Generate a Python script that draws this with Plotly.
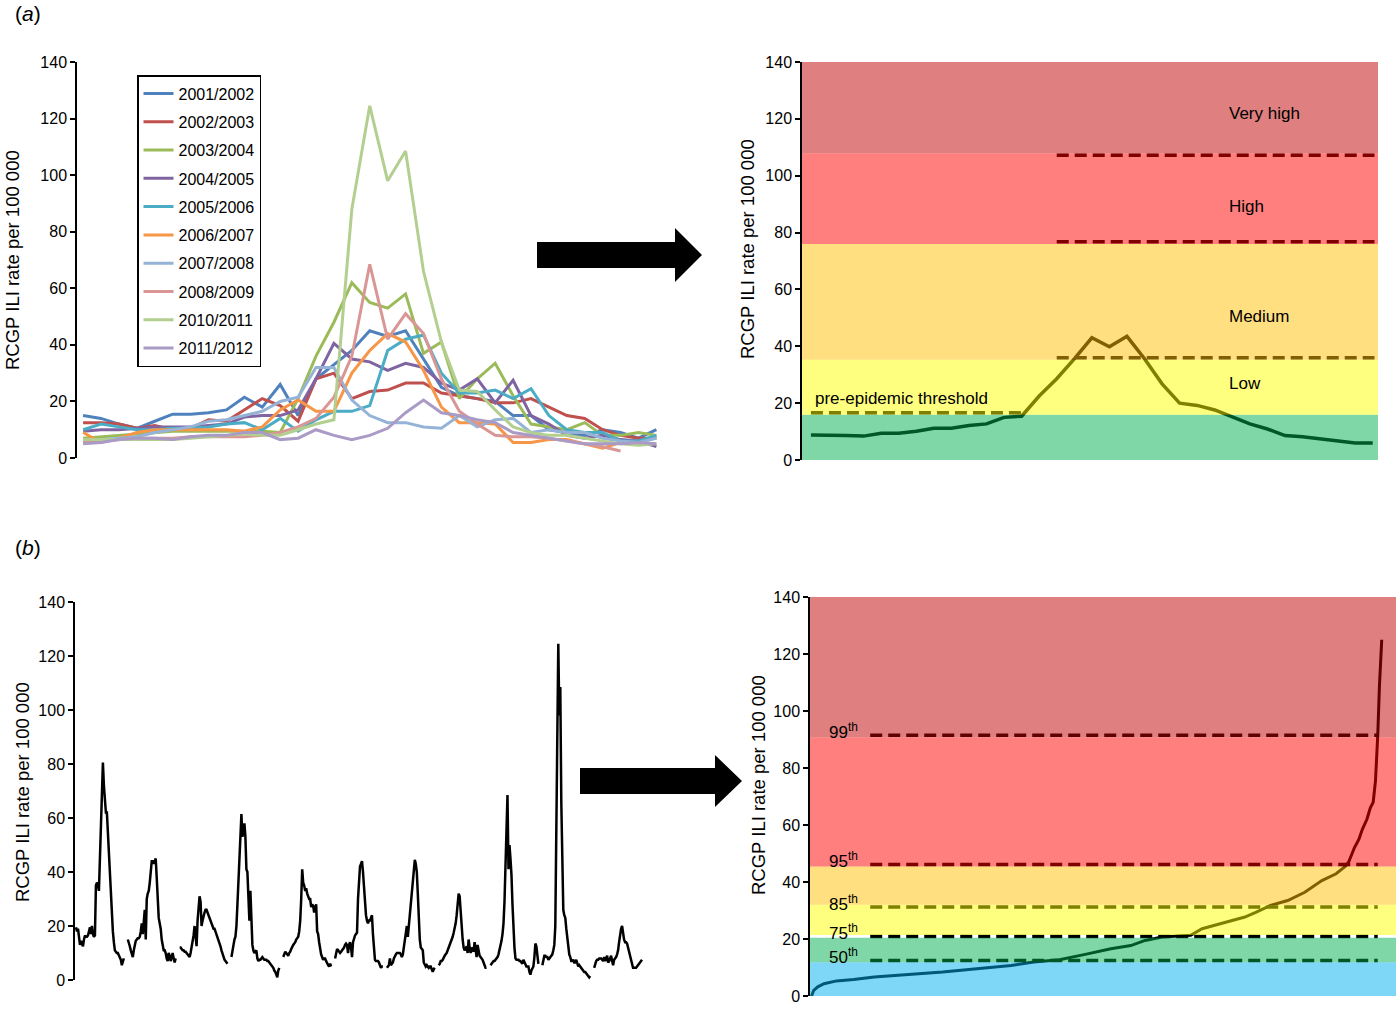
import plotly.graph_objects as go

FONT = "Liberation Sans, Arial, sans-serif"
W, H = 1400, 1014

# ---------------- (a) left: weekly ILI rate per season (aligned weeks)
week_idx = list(range(33))
season_names = ["2001/2002", "2002/2003", "2003/2004", "2004/2005", "2005/2006",
                "2006/2007", "2007/2008", "2008/2009", "2010/2011", "2011/2012"]
season_colors = ["#4F81BD", "#C0504D", "#9BBB59", "#8064A2", "#4BACC6",
                 "#F79646", "#95B3D7", "#D99694", "#B3CF8F", "#A99BC6"]

rate_0102 = [15, 14, 12, 10.5, 13, 15.5, 15.5, 16, 17, 21.5, 18, 26, 15, 28, 33, 38, 45,
             43, 45, 35, 25, 22, 21, 20, 15, 15, 10, 9, 8, 10, 9, 7, 10]
rate_0203 = [12.5, 12.5, 12, 10.5, 11.5, 10, 10.5, 13.5, 13, 17, 21, 18.5, 13, 28, 30, 21, 23.5,
             24, 26.5, 26.5, 23, 22, 21, 19.5, 19.5, 21, 18, 15, 14, 10, 8, 7, 7]
rate_0304 = [7, 7.5, 8, 8.5, 9, 9.5, 9.5, 9.5, 9.5, 9.5, 9.5, 9, 21, 36, 48, 62, 55,
             53, 58, 37, 41, 21, 28, 33.5, 22, 12, 11, 10, 12.5, 8, 8, 9, 8]
rate_0405 = [9.5, 10, 10, 10.5, 11, 11, 11, 11.5, 12, 14.5, 15, 15, 17, 28, 40.5, 35, 34,
             31, 33.5, 32, 26.5, 24, 28, 19.5, 27.5, 15, 12, 8, 7, 8, 6.5, 6, 4]
rate_0506 = [10, 12, 11, 10, 10, 10.5, 10.5, 11, 12, 12.5, 10, 14, 9.5, 13.5, 16.5, 16.5, 18.5,
             38, 42, 43.5, 30, 23, 23, 24, 21, 24.5, 15, 10, 9, 9, 6, 6, 8]
rate_0607 = [9, 5.5, 7, 9, 10, 10, 10, 10, 10, 9.5, 11, 17, 20.5, 16.5, 16.5, 30, 38,
             44, 41, 31, 18, 12.5, 12.5, 12, 5.5, 5.5, 6.5, 6.5, 5, 3.5, 5.5]
rate_0708 = [5.5, 6.5, 7, 7.5, 9, 10, 11, 13, 13.5, 15, 16.5, 20, 21.5, 32, 32, 20.5, 15,
             12.5, 12.5, 11, 10.5, 15, 11, 13.5, 14, 9, 10, 9, 9, 7, 6, 5.5, 7]
rate_0809 = [5.5, 6, 6.5, 7, 7, 7, 7.5, 7.5, 7.5, 7.5, 8, 9, 11, 14, 21.5, 36, 68.5,
             42, 51, 44, 28, 16.5, 12, 8, 7.5, 7.5, 7, 6, 5, 4, 2.5]
rate_1011 = [6.5, 6.5, 6.5, 6.5, 6.5, 6.5, 7, 7.5, 8, 8.5, 8, 8, 10, 12, 13.5, 88, 124.5,
             98, 108.5, 66, 41, 24, 23.5, 17, 11, 9, 8, 8, 7, 6, 5, 4.5, 5]
rate_1112 = [5, 5.5, 6.5, 7, 7, 6.5, 7.5, 8, 8, 9, 9, 6.5, 7, 10, 8, 6.5, 8,
             10.5, 16, 20.5, 16, 15, 13.5, 12.5, 9, 8, 7, 6, 5, 5, 5, 5.5, 5]
season_rates = [rate_0102, rate_0203, rate_0304, rate_0405, rate_0506,
                rate_0607, rate_0708, rate_0809, rate_1011, rate_1112]

# ---------------- (a) right: average curve with MEM intensity thresholds
mean_rate = [8.8, 8.8, 8.6, 8.4, 9.4, 9.4, 10.1, 11.2, 11.2, 12.1, 12.7, 15.0, 15.4, 22.5, 28.6,
             35.6, 43.0, 39.8, 43.5, 35.6, 26.8, 20.0, 19.2, 17.6, 15.0, 12.7, 10.9, 8.6, 8.2,
             7.4, 6.8, 6.0, 6.0]
epidemic_threshold = 16.6
intensity_thresholds = [36.0, 76.8, 107.2]
intensity_levels = ["Low", "Medium", "High", "Very high"]

# ---------------- (b) left: full weekly series, 2000/2001 .. 2011/2012 (no 2009/2010)
full_0001 = [19.5, 18, 19, 15, 13, 14.5, 13, 12.5, 15, 16.5, 16, 16, 16.5, 18, 19.5, 17, 20, 17,
             16, 16.5, 35, 36, 35.5, 33, 45, 60, 70, 80.5, 72, 64, 62, 62, 55, 46, 38, 30, 22,
             18, 14, 11, 10.5, 10, 10, 9, 8.5, 7.5, 5.5, 7, 8]
full_0102 = [15, 14, 12.5, 11, 9.5, 8.5, 11, 13, 14.5, 15, 15.5, 15.5, 16, 18, 21, 17, 22, 26,
             15, 30, 32, 33, 36, 40, 44, 44, 43, 44, 45, 38, 28, 23, 21, 19, 15, 12, 11, 11, 10,
             8, 7, 10, 9, 7, 9, 10, 8, 6.5, 8]
full_0203 = [12, 12, 11.5, 11, 11, 10.5, 10.5, 10, 9.5, 9, 8.5, 10, 12, 14, 16.5, 20, 16, 12.5,
             22, 28, 31, 29, 20, 22, 24, 25, 26, 26, 25, 24, 23, 22, 21, 20, 19, 19, 18, 17, 16,
             14.5, 13.5, 12.5, 11, 9.5, 8, 7.5, 7, 6.5, 6]
full_0304 = [8.5, 11, 13.5, 15, 16, 20, 28, 36, 46, 54, 61.5, 53, 55, 58, 53, 41, 40, 30, 22,
             33, 20, 13, 11, 10, 10.5, 11, 8, 7, 7.5, 7.5, 8, 8.5, 8, 7.5, 7.5, 7.5, 7, 7, 6.5,
             6, 5.5, 5, 4.5, 3.5, 3, 2, 1, 3.5, 4.5]
full_0405 = [8.5, 9.5, 10.5, 10, 9.5, 9, 10, 10.5, 11.5, 12.5, 13, 13.5, 14, 15, 15.5, 16, 18,
             22, 30, 41, 36, 35, 33, 34, 32, 31, 30, 30, 27, 28, 27.5, 25, 27, 28, 18, 17, 14,
             11, 9.5, 8.5, 7.5, 8, 8, 7, 6, 5.5, 5, 6, 5]
full_0506 = [8, 10, 11.5, 11, 10.5, 10, 10.5, 11, 11.5, 12, 13, 13.5, 13, 10, 13, 14, 12, 8.5,
             14, 16, 16.5, 17, 17.5, 30, 38, 42, 43, 44, 40, 34, 28, 24, 22, 21, 22, 22, 23, 24,
             17, 12, 7.5, 7, 7, 7, 6.5, 5.5, 4.5, 5, 5]
full_0607 = [4.5, 5, 5.5, 8, 5.5, 6, 6.5, 8, 9, 9.5, 10, 10, 10, 10, 9.5, 8.5, 9.5, 12, 15, 18,
             20, 16, 20, 23, 27, 31, 36, 40, 44.5, 43, 40, 32, 22, 15, 12, 11.5, 11, 6.5, 5.5,
             5, 5.5, 5, 4.5, 5, 5, 4, 3, 4, 4.5]
full_0708 = [5.5, 6, 7, 7, 7.5, 8.5, 9, 9.5, 10, 11, 12, 13, 13.5, 15, 16, 17.5, 19, 21, 24, 30,
             32, 31, 25, 19, 15, 12, 11, 11.5, 12.5, 10, 15, 12, 10, 12, 11, 10.5, 14, 12, 8.5,
             13, 10, 9, 8.5, 8, 7.5, 6.5, 5, 4.5, 4.5]
full_0809 = [5.5, 6, 6.5, 7, 7, 7.5, 8, 8.5, 9.5, 11, 13, 14.5, 17, 21, 29, 42, 57, 68.5, 41,
             50, 45, 39, 28, 19, 12, 8, 7.5, 7.5, 7.5, 7, 7, 6.5, 6, 7.5, 6.5, 5.5, 5, 5, 5, 3,
             2, 3.5, 4.5, 5, 8.5, 13.5, 12.5, 8, 6]
full_1011 = [5.5, 7.5, 9, 9, 8.5, 8.5, 7.5, 8, 8.5, 9, 9.5, 11, 13, 20, 50, 88, 124.5, 98,
             108.5, 66, 40, 26, 24, 23, 19, 15, 12, 9.5, 8.5, 7, 7, 7.5, 6.5, 6.5, 7.5, 5.5, 5,
             5.5, 5, 4.5, 4, 3.5, 3, 3, 2.5, 2, 1.5, 1, 1.5]
full_1112 = [4.5, 6, 7, 7.5, 7.5, 8, 8, 8, 7.5, 7, 8.5, 7, 8, 9, 6.5, 7, 8, 9, 7, 5.5, 7.5, 8,
             8.5, 9.5, 11, 14, 17, 19, 20, 16, 15, 14, 14, 13.5, 12, 10, 8.5, 7, 5.5, 4.5, 4.5,
             4.5, 4.5, 5, 5.5, 6, 6.5, 7, 7.5]
full_seasons = [full_0001, full_0102, full_0203, full_0304, full_0405, full_0506,
                full_0607, full_0708, full_0809, full_1011, full_1112]
weeks_per_year = 52

# ---------------- (b) right: sorted weekly rates with percentile thresholds
rank_pct = [0, 0.4, 1.1, 2.2, 4.4, 7.4, 11, 17, 23, 29, 35, 39, 43.5, 48, 52.5, 56, 58.5, 61.5,
            66.5, 68.5, 73, 76, 78, 80.5, 83.5, 86.5, 89.5, 92, 93.6, 94.2, 95.2, 96.0, 96.6,
            97.4, 98.0, 98.5, 98.9, 99.3, 99.6, 100]
sorted_rate = [0, 2, 3.2, 4.3, 5.3, 5.8, 6.7, 7.6, 8.4, 9.6, 10.7, 11.9, 12.7, 14.6, 16.6, 17.7,
               19.5, 20.7, 21.3, 23.6, 25.9, 27.7, 29.4, 31.8, 33.5, 36.4, 40.5, 42.9, 45.5, 47,
               52, 55, 58.5, 62, 66, 68, 75.5, 91.5, 109, 125]
percentile_names = ["50", "75", "85", "95", "99"]
percentile_values = [12.5, 20.9, 31.2, 46.1, 91.5]


def px_x(px):
    return px / W


def px_y(py):
    return 1 - py / H


fig = go.Figure()

# (a) left
for name, color, rate in zip(season_names, season_colors, season_rates):
    fig.add_trace(go.Scatter(x=week_idx[:len(rate)], y=rate, name=name, mode="lines",
                             line=dict(color=color, width=3), legendgroup=name,
                             xaxis="x", yaxis="y"))

# (a) right - black lines sit below the half transparent bands
fig.add_trace(go.Scatter(x=week_idx, y=mean_rate, mode="lines", showlegend=False,
                         line=dict(color="black", width=3.5), xaxis="x2", yaxis="y2"))
dash = "12px,6px"
fig.add_trace(go.Scatter(x=[week_idx[0], week_idx[12]], y=[epidemic_threshold] * 2, mode="lines",
                         showlegend=False, line=dict(color="black", width=3.5, dash=dash),
                         xaxis="x2", yaxis="y2"))
for thr in intensity_thresholds:
    fig.add_trace(go.Scatter(x=[week_idx[14], 32.1], y=[thr, thr], mode="lines", showlegend=False,
                             line=dict(color="black", width=3.5, dash=dash),
                             xaxis="x2", yaxis="y2"))

# (b) left
xs, ys = [], []
for k, vals in enumerate(full_seasons):
    xs += [weeks_per_year * k + w for w in range(len(vals))] + [None]
    ys += vals + [None]
fig.add_trace(go.Scatter(x=xs, y=ys, mode="lines", showlegend=False,
                         line=dict(color="black", width=2.5), xaxis="x3", yaxis="y3"))

# (b) right
fig.add_trace(go.Scatter(x=rank_pct, y=sorted_rate, mode="lines", showlegend=False,
                         line=dict(color="black", width=3), xaxis="x4", yaxis="y4"))
for val in percentile_values:
    fig.add_trace(go.Scatter(x=[10.3, 99.3], y=[val, val], mode="lines", showlegend=False,
                             line=dict(color="black", width=3.5, dash=dash),
                             xaxis="x4", yaxis="y4"))

shapes = []
# MEM intensity bands (a, right)
top_bands = [(0, 15.9, "#00B050"), (15.9, 35.3, "#FFFF00"), (35.3, 76.0, "#FFC000"),
             (76.0, 107.9, "#FF0000"), (107.9, 140, "#C00000")]
for y0, y1, c in top_bands:
    shapes.append(dict(type="rect", xref="x2 domain", yref="y2", x0=0, x1=1, y0=y0, y1=y1,
                       fillcolor=c, opacity=0.5, line=dict(width=0), layer="above"))
# percentile bands (b, right)
bottom_bands = [(0, 11.8, "#00B0F0"), (11.8, 20.4, "#00B050"), (21.4, 32.0, "#FFFF00"),
                (32.0, 45.4, "#FFC000"), (45.4, 90.8, "#FF0000"), (90.8, 140, "#C00000")]
for y0, y1, c in bottom_bands:
    shapes.append(dict(type="rect", xref="x4 domain", yref="y4", x0=0, x1=1, y0=y0, y1=y1,
                       fillcolor=c, opacity=0.5, line=dict(width=0), layer="above"))


# block arrows
def arrow(x0, x1, xt, yc, half_shaft, half_head):
    pts = [(x0, yc - half_shaft), (x1, yc - half_shaft), (x1, yc - half_head), (xt, yc),
           (x1, yc + half_head), (x1, yc + half_shaft), (x0, yc + half_shaft)]
    path = "M " + " L ".join("%.5f,%.5f" % (px_x(a), px_y(b)) for a, b in pts) + " Z"
    return dict(type="path", xref="paper", yref="paper", path=path, fillcolor="black",
                line=dict(width=0), layer="above")


shapes.append(arrow(537, 675, 702, 255, 13, 27))
shapes.append(arrow(580, 715, 742, 781, 13, 26))

annotations = []
ytitle = "RCGP ILI rate per 100 000"
for x, y in [(12, 260), (747, 249), (22, 792), (758, 785)]:
    annotations.append(dict(text=ytitle, xref="paper", yref="paper", x=px_x(x), y=px_y(y),
                            xanchor="center", yanchor="middle", textangle=-90, showarrow=False,
                            font=dict(size=18.5, color="black")))
for label, y in [("(<i>a</i>)", 14), ("(<i>b</i>)", 547)]:
    annotations.append(dict(text=label, xref="paper", yref="paper", x=px_x(13), y=px_y(y),
                            xanchor="left", yanchor="middle", showarrow=False,
                            font=dict(size=21, color="black")))
for label, y in zip(intensity_levels, [26.8, 50.4, 89.2, 122]):
    annotations.append(dict(text=label, xref="x2", yref="y2", x=23.7, y=y, xanchor="left",
                            yanchor="middle", showarrow=False, font=dict(size=17, color="black")))
annotations.append(dict(text="pre-epidemic threshold", xref="x2", yref="y2", x=0.1, y=21.5,
                        xanchor="left", yanchor="middle", showarrow=False,
                        font=dict(size=17, color="black")))
for name, val in zip(percentile_names, percentile_values):
    annotations.append(dict(text=name + "<sup>th</sup>", xref="x4", yref="y4", x=5.7, y=val + 1.5,
                            xanchor="center", yanchor="middle", showarrow=False,
                            font=dict(size=17, color="black")))

yax = dict(range=[0, 140], dtick=20, showline=True, linecolor="black", linewidth=1.5,
           ticks="outside", ticklen=5, tickwidth=1.5, tickcolor="black", showgrid=False,
           zeroline=False, tickfont=dict(size=16, color="black"), automargin=False)
xax = dict(showline=False, showticklabels=False, ticks="", showgrid=False, zeroline=False,
           automargin=False)

fig.update_layout(
    width=W, height=H, margin=dict(l=0, r=0, t=0, b=0, pad=0, autoexpand=False),
    paper_bgcolor="white", plot_bgcolor="white",
    font=dict(family=FONT, color="black"),
    xaxis=dict(xax, domain=[px_x(77), px_x(660)], range=[-0.34, 32.2], anchor="y"),
    yaxis=dict(yax, domain=[px_y(458), px_y(62)], anchor="x"),
    xaxis2=dict(xax, domain=[px_x(802), px_x(1378)], range=[-0.51, 32.3], anchor="y2"),
    yaxis2=dict(yax, domain=[px_y(460), px_y(62)], anchor="x2"),
    xaxis3=dict(xax, domain=[px_x(75), px_x(645)], range=[-1, 571], anchor="y3"),
    yaxis3=dict(yax, domain=[px_y(980), px_y(602)], anchor="x3"),
    xaxis4=dict(xax, domain=[px_x(810), px_x(1396)], range=[-0.26, 102.5], anchor="y4"),
    yaxis4=dict(yax, domain=[px_y(996), px_y(597)], anchor="x4"),
    legend=dict(x=px_x(137), y=px_y(75), xanchor="left", yanchor="top",
                bordercolor="black", borderwidth=1.5, bgcolor="white",
                font=dict(size=16, color="black"), tracegroupgap=4.5, traceorder="grouped"),
    shapes=shapes, annotations=annotations,
)

fig.write_html("out.html", config={"displayModeBar": False},
               post_script="document.documentElement.style.overflow='hidden';"
                           "document.body.style.margin='0';"
                           "document.body.style.overflow='hidden';")
